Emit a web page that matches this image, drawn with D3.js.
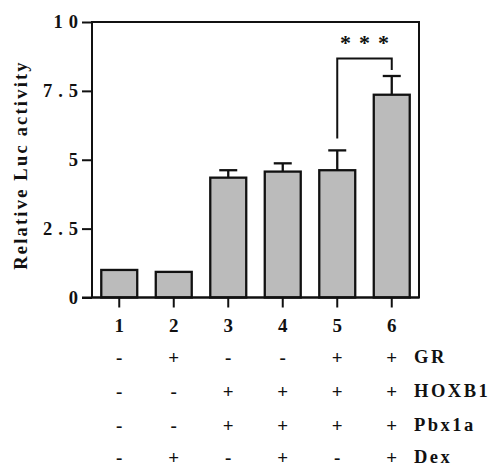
<!DOCTYPE html>
<html><head><meta charset="utf-8">
<script src="https://cdn.jsdelivr.net/npm/d3@7"></script>
<style>body{margin:0;background:#fff}</style>
</head><body>
<svg id="c" width="493" height="466"></svg>
<script>
const categories = ["1","2","3","4","5","6"];
const values = [1.0, 0.93, 4.35, 4.57, 4.62, 7.36];
const errors = [0.0, 0.0, 0.27, 0.3, 0.72, 0.68];
const yTicks = [0, 2.5, 5, 7.5, 10];
const conditionNames = ["GR","HOXB1","Pbx1a","Dex"];
const GR    = ["-","+","-","-","+","+"];
const HOXB1 = ["-","-","+","+","+","+"];
const Pbx1a = ["-","-","+","+","+","+"];
const Dex   = ["-","+","-","+","-","+"];
const conditions = [GR, HOXB1, Pbx1a, Dex];
const sigPair = [4, 5];
const sigLabel = "***";

const svg = d3.select("#c");
const font = "'Liberation Serif', 'Times New Roman', serif";
const ink = "#111";
const L = 92, R = 419, T = 22, B = 297.5;
const x = d3.scaleBand().domain(categories).range([L, R]).paddingInner(0.34).paddingOuter(0.17);
const y = d3.scaleLinear().domain([0, 10]).range([B, T]);

// bars
svg.selectAll("rect.bar").data(values).enter().append("rect")
  .attr("x", (d,i) => x(categories[i]))
  .attr("y", d => y(d))
  .attr("width", x.bandwidth())
  .attr("height", d => B - y(d))
  .attr("fill", "#bbbbbb").attr("stroke", ink).attr("stroke-width", 2.3);

// error bars
values.forEach((v,i) => {
  if (errors[i] <= 0) return;
  const cx = x(categories[i]) + x.bandwidth()/2;
  svg.append("line").attr("x1", cx).attr("x2", cx).attr("y1", y(v)).attr("y2", y(v+errors[i]))
    .attr("stroke", ink).attr("stroke-width", 2.3);
  svg.append("line").attr("x1", cx-9).attr("x2", cx+9).attr("y1", y(v+errors[i])).attr("y2", y(v+errors[i]))
    .attr("stroke", ink).attr("stroke-width", 2.3);
});

// frame
svg.append("path").attr("d", `M${L},${B}V${T}H${R}V${B}Z`).attr("fill","none").attr("stroke",ink).attr("stroke-width",2);

// y axis
const ya = svg.append("g").attr("transform", `translate(${L},0)`)
  .call(d3.axisLeft(y).tickValues(yTicks).tickSize(10).tickSizeOuter(0).tickFormat(d => String(d)));
ya.select(".domain").remove();
ya.selectAll("line").attr("stroke",ink).attr("stroke-width",2);
ya.selectAll("text").attr("font-family", font).attr("font-weight","bold").attr("font-size",18.5)
  .attr("fill",ink).style("letter-spacing","6px").attr("x", -8);

// x axis ticks
const xa = svg.append("g").attr("transform", `translate(0,${B})`)
  .call(d3.axisBottom(x).tickSize(10).tickSizeOuter(0));
xa.select(".domain").attr("stroke",ink).attr("stroke-width",2).attr("d", `M${L-10},0H${R}`);
xa.selectAll("line").attr("stroke",ink).attr("stroke-width",2);
xa.selectAll("text").attr("font-family", font).attr("font-weight","bold").attr("font-size",19)
  .attr("fill",ink).attr("y", 21).attr("dy","0.71em");

// y title
svg.append("text").attr("transform", `translate(27,165) rotate(-90)`).attr("text-anchor","middle")
  .attr("font-family", font).attr("font-weight","bold").attr("font-size",18.5).attr("letter-spacing","2.2px")
  .attr("fill",ink).text("Relative Luc activity");

// significance bracket
const cxA = x(categories[sigPair[0]]) + x.bandwidth()/2;
const cxB = x(categories[sigPair[1]]) + x.bandwidth()/2;
svg.append("path").attr("d", `M${cxA},${y(values[4]+errors[4])-12}V58.5H${cxB}V${y(values[5]+errors[5])-6}`)
  .attr("fill","none").attr("stroke",ink).attr("stroke-width",2);
svg.append("text").attr("x", (cxA+cxB)/2+4).attr("y", 50).attr("text-anchor","middle")
  .attr("font-family", font).attr("font-weight","bold").attr("font-size",22).attr("letter-spacing","8px")
  .attr("fill",ink).text(sigLabel);

// condition table
const rowY = [357, 391, 425, 457];
conditions.forEach((row, r) => {
  row.forEach((s, i) => {
    svg.append("text").attr("x", x(categories[i]) + x.bandwidth()/2).attr("y", rowY[r])
      .attr("text-anchor","middle").attr("dominant-baseline","central")
      .attr("font-family", font).attr("font-weight","bold").attr("font-size",19).attr("fill",ink).text(s);
  });
  svg.append("text").attr("x", 414).attr("y", rowY[r]).attr("dominant-baseline","central")
    .attr("font-family", font).attr("font-weight","bold").attr("font-size",18.5).attr("letter-spacing","2.5px")
    .attr("fill",ink).text(conditionNames[r]);
});
</script>
</body></html>
